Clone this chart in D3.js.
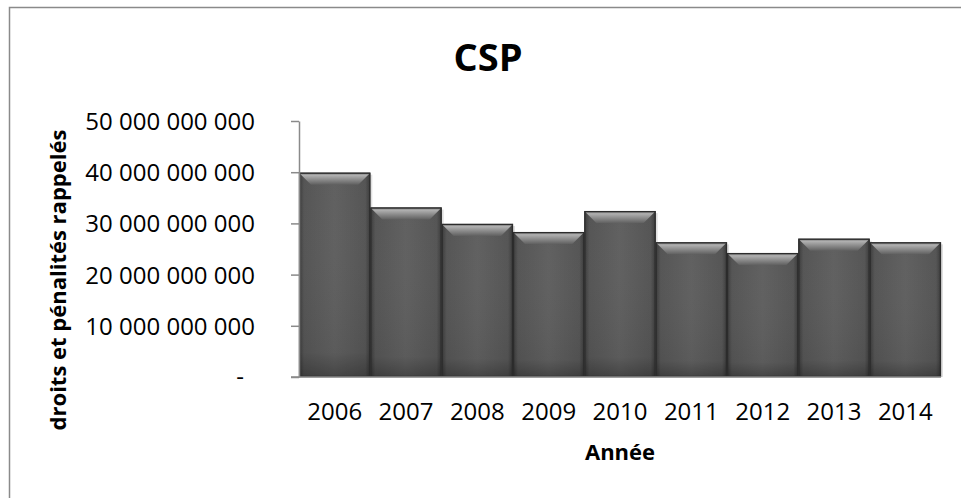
<!DOCTYPE html>
<html>
<head>
<meta charset="utf-8">
<script src="https://cdn.jsdelivr.net/npm/d3@7/dist/d3.min.js"></script>
<style>
  html, body { margin: 0; padding: 0; background: #fff; }
  svg { display: block; }
  text { font-family: "Open Sans", "Liberation Sans", sans-serif; fill: #000; }
</style>
</head>
<body>
<svg id="chart" width="961" height="498"></svg>
<script>
const years = ["2006", "2007", "2008", "2009", "2010", "2011", "2012", "2013", "2014"];
const values = [39.9e9, 33.1e9, 29.9e9, 28.3e9, 32.4e9, 26.3e9, 24.2e9, 27.0e9, 26.3e9];
const yTicks = [0, 10e9, 20e9, 30e9, 40e9, 50e9];
const titleText = "CSP";
const xTitle = "Année";
const yTitle = "droits et pénalités rappelés";

const svg = d3.select("#chart");

// outer chart border (extends beyond right/bottom edge)
svg.append("rect")
  .attr("x", 9.5).attr("y", 7.5)
  .attr("width", 1000).attr("height", 600)
  .attr("fill", "#fff")
  .attr("stroke", "#8a8a8a").attr("stroke-width", 1.5);

const plot = { left: 299, right: 941, top: 121, bottom: 377 };

const x = d3.scaleBand().domain(years).range([plot.left, plot.right]).padding(0);
const y = d3.scaleLinear().domain([0, 50e9]).range([plot.bottom, plot.top]);

const defs = svg.append("defs");
const bodyGrad = defs.append("linearGradient").attr("id", "bodyGrad")
  .attr("x1", 0).attr("x2", 1).attr("y1", 0).attr("y2", 0);
bodyGrad.append("stop").attr("offset", "0%").attr("stop-color", "#3a3a3a");
bodyGrad.append("stop").attr("offset", "7%").attr("stop-color", "#555555");
bodyGrad.append("stop").attr("offset", "50%").attr("stop-color", "#606060");
bodyGrad.append("stop").attr("offset", "93%").attr("stop-color", "#555555");
bodyGrad.append("stop").attr("offset", "100%").attr("stop-color", "#3a3a3a");

const vertGrad = defs.append("linearGradient").attr("id", "vertGrad")
  .attr("x1", 0).attr("x2", 0).attr("y1", 0).attr("y2", 1);
vertGrad.append("stop").attr("offset", "0%").attr("stop-color", "#ffffff").attr("stop-opacity", 0.0);
vertGrad.append("stop").attr("offset", "88%").attr("stop-color", "#000000").attr("stop-opacity", 0.05);
vertGrad.append("stop").attr("offset", "100%").attr("stop-color", "#000000").attr("stop-opacity", 0.28);

const topGrad = defs.append("linearGradient").attr("id", "topGrad")
  .attr("x1", 0).attr("x2", 0).attr("y1", 0).attr("y2", 1);
topGrad.append("stop").attr("offset", "0%").attr("stop-color", "#707070");
topGrad.append("stop").attr("offset", "22%").attr("stop-color", "#b0b0b0");
topGrad.append("stop").attr("offset", "55%").attr("stop-color", "#8e8e8e");
topGrad.append("stop").attr("offset", "100%").attr("stop-color", "#606060");

// bars
const bevel = 12;
const bars = svg.append("g").selectAll("g").data(years).join("g");
bars.each(function(yr, i) {
  const g = d3.select(this);
  const x0 = x(yr), w = x.bandwidth();
  const y0 = y(values[i]), y1 = y(0);
  g.append("rect").attr("x", x0 + 2).attr("y", y0 + 2).attr("width", w).attr("height", y1 - y0 - 2)
    .attr("fill", "#000").attr("opacity", 0.12);
  g.append("rect").attr("x", x0).attr("y", y0).attr("width", w).attr("height", y1 - y0)
    .attr("fill", "url(#bodyGrad)");
  g.append("rect").attr("x", x0).attr("y", y0).attr("width", w).attr("height", y1 - y0)
    .attr("fill", "url(#vertGrad)");
  g.append("polygon")
    .attr("points", [[x0, y0], [x0 + w, y0], [x0 + w - bevel, y0 + bevel], [x0 + bevel, y0 + bevel]].map(p => p.join(",")).join(" "))
    .attr("fill", "url(#topGrad)");
  g.append("rect").attr("x", x0 + 0.5).attr("y", y0 + 0.5).attr("width", w - 1).attr("height", y1 - y0 - 1)
    .attr("fill", "none").attr("stroke", "#2c2c2c").attr("stroke-width", 1.3);
});

// y axis
const yAxis = d3.axisLeft(y).tickValues(yTicks).tickSize(8).tickSizeOuter(0)
  .tickFormat(d => d === 0 ? "" : d3.format(",")(d).replace(/,/g, " "));
const yg = svg.append("g").attr("transform", `translate(${plot.left},0)`).call(yAxis);
yg.select(".domain").attr("stroke", "#8a8a8a").attr("stroke-width", 1.5);
yg.selectAll(".tick line").attr("stroke", "#8a8a8a").attr("stroke-width", 1.5);
yg.selectAll(".tick text")
  .attr("x", -44).attr("dy", "0.35em")
  .style("font-size", "24px").style("font-family", "'Open Sans', sans-serif").attr("fill", "#000");
yg.selectAll(".tick").filter(d => d === 0).append("text")
  .attr("x", -55).attr("dy", "0.32em").attr("text-anchor", "end")
  .style("font-size", "24px").attr("fill", "#000").text("-");

// x axis
const xAxis = d3.axisBottom(x).tickSize(0).tickSizeOuter(0);
const xg = svg.append("g").attr("transform", `translate(0,${plot.bottom})`).call(xAxis);
xg.select(".domain").attr("stroke", "#8a8a8a").attr("stroke-width", 1.5)
  .attr("d", `M${plot.left - 8},0H${plot.right}`);
xg.selectAll(".tick text").attr("y", 43).attr("dy", 0)
  .style("font-size", "24px").style("font-family", "'Open Sans', sans-serif").attr("fill", "#000");

// titles
svg.append("text").attr("x", 488).attr("y", 71).attr("text-anchor", "middle")
  .style("font-size", "38px").style("font-weight", "bold").text(titleText);

svg.append("text").attr("x", (plot.left + plot.right) / 2).attr("y", 460).attr("text-anchor", "middle")
  .style("font-size", "22px").style("font-weight", "bold").text(xTitle);

svg.append("text").attr("transform", "translate(66,280) rotate(-90)").attr("text-anchor", "middle")
  .style("font-size", "22px").style("font-weight", "bold").text(yTitle);
</script>
</body>
</html>
